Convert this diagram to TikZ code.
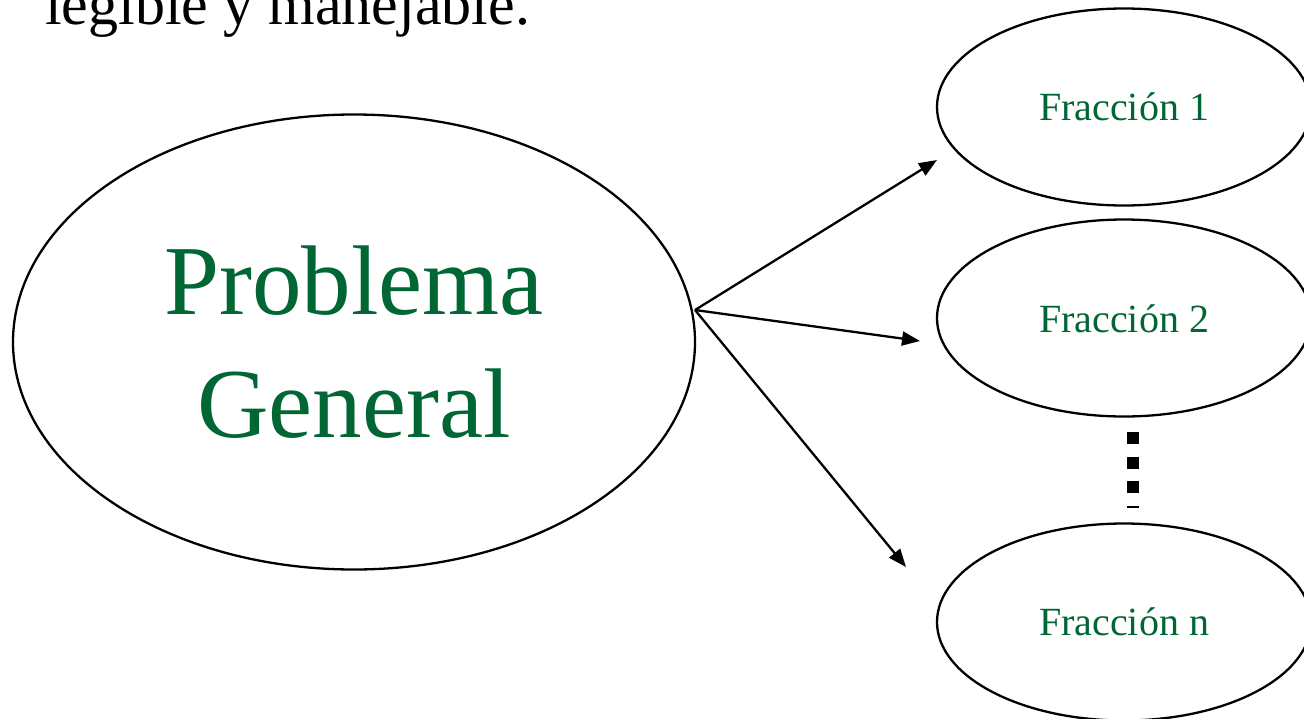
\documentclass[tikz,border=0pt]{standalone}
\usepackage{fontspec}
\setmainfont{Liberation Serif}
\usetikzlibrary{shapes.geometric,arrows.meta}
\definecolor{dgreen}{RGB}{0,102,51}
\tikzset{
  oval/.style={draw=black, line width=2.3pt, ellipse, inner sep=0pt},
  conn/.style={line width=2.3pt, -{Triangle[length=18pt,width=14pt]}},
  lbl/.style={text=dgreen, anchor=base, inner sep=0pt},
}
\begin{document}
\begin{tikzpicture}[x=1pt,y=-1pt]
\useasboundingbox (0,0) rectangle (1304,718);
\clip (0,0) rectangle (1304,718);
\fill[white] (0,0) rectangle (1304,718);
\node[anchor=base west, inner sep=0pt, font=\fontsize{60}{64}\selectfont] (top) at (45,24) {legible y manejable.};
\node[oval, minimum width=682pt, minimum height=455pt] (P) at (354,342) {};
\node[lbl, font=\fontsize{99}{104}\selectfont] (pt1) at (354,314) {Problema};
\node[lbl, font=\fontsize{99}{104}\selectfont] (pt2) at (354,437) {General};
\node[oval, minimum width=374pt, minimum height=197pt] (F1) at (1124,107) {};
\node[oval, minimum width=374pt, minimum height=197pt] (F2) at (1124,318) {};
\node[oval, minimum width=374pt, minimum height=197pt] (Fn) at (1124,622) {};
\node[lbl, font=\fontsize{40}{44}\selectfont] (f1) at (1124,120) {Fracción 1};
\node[lbl, font=\fontsize{40}{44}\selectfont] (f2) at (1124,332) {Fracción 2};
\node[lbl, font=\fontsize{40}{44}\selectfont] (fn) at (1124,635) {Fracción n};
\coordinate (s) at (695,310);
\coordinate (t1) at (937,160);
\coordinate (t2) at (920,341);
\coordinate (t3) at (906,567);
\draw[conn] (s) -- (t1);
\draw[conn] (s) -- (t2);
\draw[conn] (s) -- (t3);
\coordinate (d1) at (1133,432);
\coordinate (d2) at (1133,508);
\draw[line width=12pt, dash pattern=on 12pt off 12.5pt] (d1) -- (d2);
\end{tikzpicture}
\end{document}
